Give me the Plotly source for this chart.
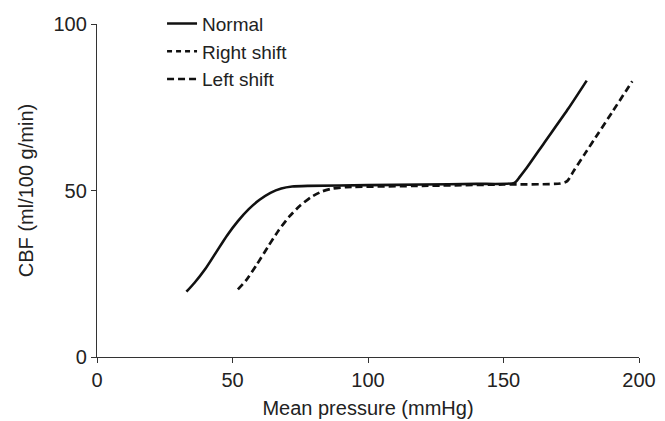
import plotly.graph_objects as go

# Normal autoregulation curve
normal_pressure = [33, 36, 40, 44, 48, 52, 56, 60, 64, 68, 72, 78, 100, 120, 140, 154, 156, 158.3, 165, 174, 180.7]
normal_cbf = [19.6, 22.3, 26.5, 31.5, 36.5, 40.8, 44.4, 47.2, 49.3, 50.6, 51.2, 51.4, 51.6, 51.8, 52.0, 52.3, 54.1, 56.5, 64.3, 74.7, 83.0]

# Shifted autoregulation curve
shift_pressure = [52, 55, 59, 63, 67, 71, 75, 79, 83, 87, 92, 120, 150, 171, 173.5, 176, 180, 185, 190, 197.5]
shift_cbf = [20.3, 23.0, 27.8, 33.0, 38.0, 42.2, 45.5, 48.0, 49.7, 50.6, 51.0, 51.4, 51.8, 52.1, 52.8, 56.0, 61.0, 67.2, 73.4, 82.8]

legend_names = ["Normal", "Right shift", "Left shift"]
x_ticks = [0, 50, 100, 150, 200]
y_ticks = [0, 50, 100]

FONT = "Liberation Sans, Arial, Helvetica, sans-serif"
INK = "#111111"
TXT = "#222222"

fig = go.Figure()
fig.add_trace(go.Scatter(x=normal_pressure, y=normal_cbf, mode="lines", name=legend_names[0],
                         line=dict(color=INK, width=2.6, shape="spline", smoothing=0.6),
                         legendgroup="a"))
fig.add_trace(go.Scatter(x=[None], y=[None], mode="lines", name=legend_names[1],
                         line=dict(color=INK, width=2.4, dash="5px,4px"), legendgroup="b"))
fig.add_trace(go.Scatter(x=[None], y=[None], mode="lines", name=legend_names[2],
                         line=dict(color=INK, width=2.4, dash="7px,4px"), legendgroup="c"))
fig.add_trace(go.Scatter(x=shift_pressure, y=shift_cbf, mode="lines", name=legend_names[1],
                         showlegend=False,
                         line=dict(color=INK, width=2.7, dash="7px,4px", shape="spline", smoothing=0.6)))

axis_common = dict(showline=True, linecolor="#333333", linewidth=1.3, ticks="outside", ticklen=5,
                   tickcolor="#333333", tickwidth=1.3, showgrid=False, zeroline=False, automargin=False,
                   tickfont=dict(family=FONT, size=20, color=TXT))

fig.update_layout(
    width=665, height=421,
    margin=dict(l=97, r=26, t=24, b=64, autoexpand=False),
    plot_bgcolor="white", paper_bgcolor="white",
    font=dict(family=FONT, size=20, color=TXT),
    xaxis=dict(range=[0, 200], tickvals=x_ticks, title=dict(text="Mean pressure (mmHg)", standoff=10,
               font=dict(family=FONT, size=20, color=TXT)), **axis_common),
    yaxis=dict(range=[0, 100], tickvals=y_ticks, title=dict(text="CBF (ml/100 g/min)", standoff=14,
               font=dict(family=FONT, size=20, color=TXT)), **axis_common),
    legend=dict(x=0.12, y=1.058, xanchor="left", yanchor="top", bgcolor="rgba(0,0,0,0)",
                tracegroupgap=0, font=dict(family=FONT, size=19, color=TXT)),
    showlegend=True,
)

fig.write_html("out.html", config={"displayModeBar": False},
               post_script="document.body.style.margin='0';")
